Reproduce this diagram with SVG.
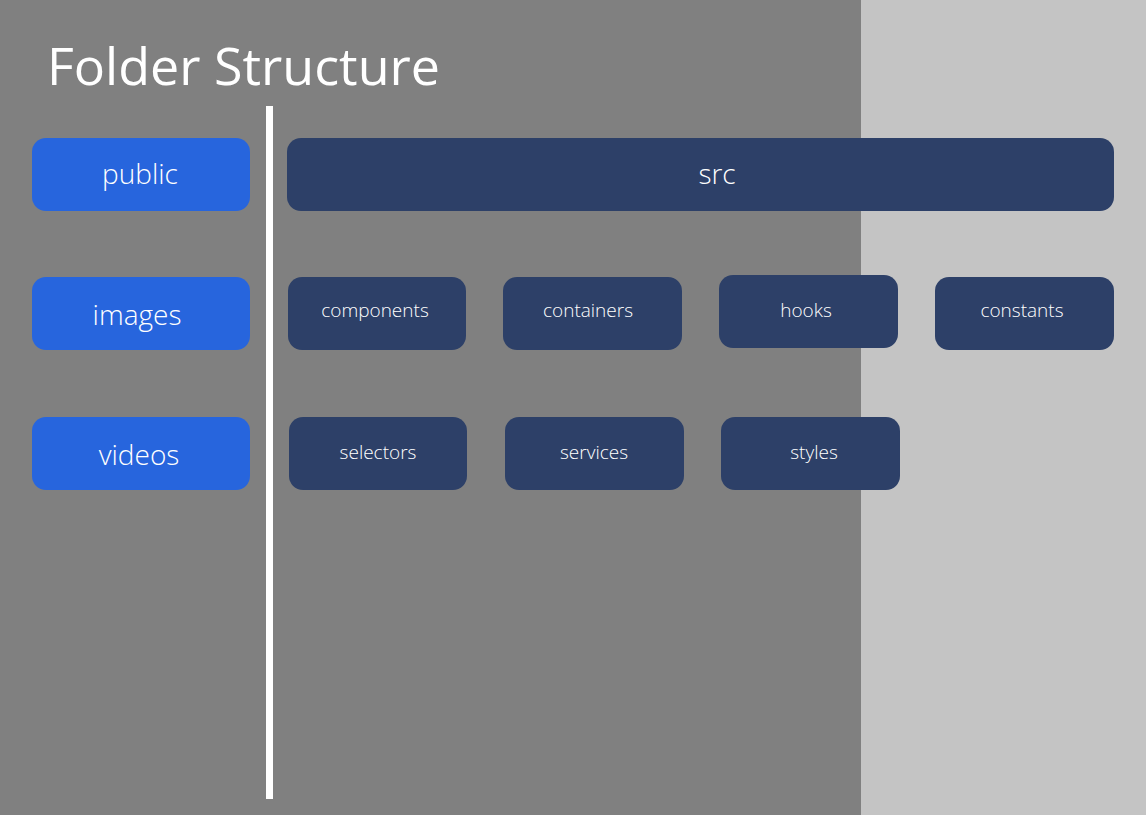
<svg xmlns="http://www.w3.org/2000/svg" width="1146" height="815" viewBox="0 0 1146 815">
<style>
.lb{fill:#2765dd}
.db{fill:#2d4068}
text{fill:#ffffff;font-family:"Open Sans","Noto Sans","Liberation Sans",sans-serif;text-anchor:middle}
.big{font-size:28px;font-weight:300}
.sm{font-size:19px;font-weight:300}
</style>
<rect x="0" y="0" width="1146" height="815" fill="#c4c4c4"/>
<rect x="0" y="0" width="861" height="815" fill="#808080"/>
<text x="47" y="85" style="font-size:52px;font-weight:400;text-anchor:start">Folder Structure</text>
<g id="connectors">
<rect x="266" y="106" width="7" height="693" fill="#ffffff"/>
</g>
<g id="public"><rect class="lb" x="32" y="138" width="218" height="73" rx="14"/><text class="big" x="140" y="184">public</text></g>
<g id="images"><rect class="lb" x="32" y="277" width="218" height="73" rx="14"/><text class="big" x="137" y="325">images</text></g>
<g id="videos"><rect class="lb" x="32" y="417" width="218" height="73" rx="14"/><text class="big" x="139" y="465">videos</text></g>
<g id="src"><rect class="db" x="287" y="138" width="827" height="73" rx="14"/><text class="big" x="717" y="184">src</text></g>
<g id="components"><rect class="db" x="288" y="277" width="178" height="73" rx="14"/><text class="sm" x="375" y="317">components</text></g>
<g id="containers"><rect class="db" x="503" y="277" width="179" height="73" rx="14"/><text class="sm" x="588" y="317">containers</text></g>
<g id="hooks"><rect class="db" x="719" y="275" width="179" height="73" rx="14"/><text class="sm" x="806" y="317">hooks</text></g>
<g id="constants"><rect class="db" x="935" y="277" width="179" height="73" rx="14"/><text class="sm" x="1022" y="317">constants</text></g>
<g id="selectors"><rect class="db" x="289" y="417" width="178" height="73" rx="14"/><text class="sm" x="378" y="459">selectors</text></g>
<g id="services"><rect class="db" x="505" y="417" width="179" height="73" rx="14"/><text class="sm" x="594" y="459">services</text></g>
<g id="styles"><rect class="db" x="721" y="417" width="179" height="73" rx="14"/><text class="sm" x="814" y="459">styles</text></g>
</svg>
